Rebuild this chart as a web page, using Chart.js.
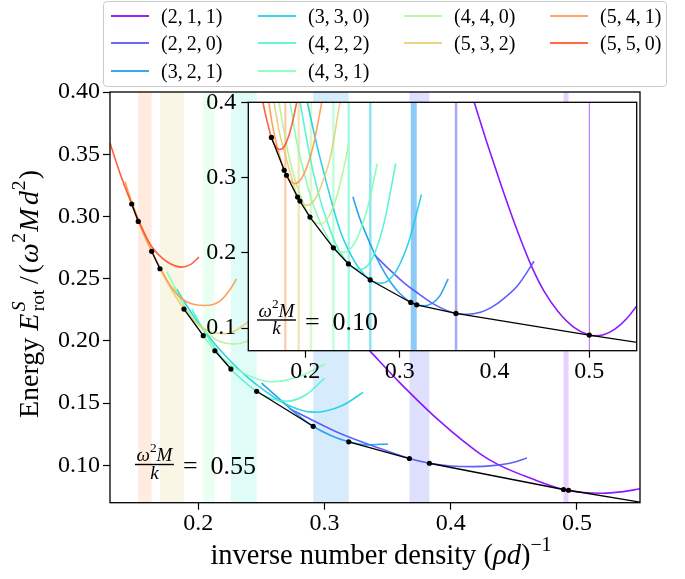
<!DOCTYPE html>
<html>
<head>
<meta charset="utf-8">
<title>Rotational energy vs inverse number density</title>
<script src="https://cdn.jsdelivr.net/npm/chart.js@4.4.1/dist/chart.umd.min.js"></script>
<style>
  html, body { margin: 0; padding: 0; background: #fff; }
  #page { position: relative; width: 685px; height: 579px; overflow: hidden; }
  canvas { position: absolute; }
  #mainChart { left: 0; top: 0; }
  #insetChart { left: 180px; top: 80px; }
  #legend { position: absolute; left: 103px; top: 1px; width: 564px; height: 86px; box-sizing: border-box;
            border: 1px solid #cccccc; border-radius: 4px; background: rgba(255,255,255,0.8);
            font-family: 'Liberation Serif', serif; font-size: 20px; color: #000; }
  .lg-line { position: absolute; width: 38px; height: 2px; }
  .lg-text { position: absolute; white-space: nowrap; line-height: 22px; }
</style>
</head>
<body>
<div id="page">
  <canvas id="mainChart" width="685" height="579"></canvas>
  <canvas id="insetChart" width="470" height="320"></canvas>
  <div id="legend"></div>
</div>
<script>
// ---- series labels and colours (rainbow colormap, 11 steps, last unused) ----
const labels = ['(2,\u20091,\u20091)', '(2,\u20092,\u20090)', '(3,\u20092,\u20091)', '(3,\u20093,\u20090)', '(4,\u20092,\u20092)',
                '(4,\u20093,\u20091)', '(4,\u20094,\u20090)', '(5,\u20093,\u20092)', '(5,\u20094,\u20091)', '(5,\u20095,\u20090)'];
const rainbow = [[128,0,255],[77,79,252],[26,150,242],[26,206,227],[77,243,206],
                 [128,255,180],[179,243,150],[230,206,116],[255,150,79],[255,79,40]];
const legendCols = [[0,1,2],[3,4,5],[6,7],[8,9]];

// ---- main panel, w^2 M / k = 0.55 : [inverse density, energy] ----
const m211 = [[0.31,0.220],[0.3359,0.192],[0.3596,0.1665],[0.3913,0.1355],[0.423,0.1095],[0.4388,0.1000],
              [0.465,0.0890],[0.4894,0.0806],[0.505,0.0782],[0.52,0.0776],[0.535,0.0787],[0.55,0.0812]];
const m220 = [[0.2725,0.1454],[0.29,0.1365],[0.312,0.1258],[0.34,0.1150],[0.3673,0.1055],[0.3831,0.1017],
              [0.40,0.0995],[0.4177,0.0990],[0.435,0.1000],[0.45,0.1025],[0.4604,0.106]];
const m321 = [[0.2501,0.166],[0.262,0.1555],[0.276,0.1428],[0.291,0.1314],[0.305,0.1240],[0.3192,0.1189],
              [0.333,0.1165],[0.3504,0.1172]];
const m330 = [[0.1828,0.2417],[0.1886,0.2320],[0.1965,0.2195],[0.2039,0.2095],[0.2131,0.1975],[0.2258,0.1835],
              [0.2393,0.1705],[0.2525,0.1600],[0.265,0.1515],[0.278,0.1455],[0.29,0.1428],[0.30,0.1435],
              [0.315,0.1485],[0.3306,0.1587]];
const m422 = [[0.195,0.2254],[0.2039,0.2090],[0.2131,0.1942],[0.2258,0.1774],[0.236,0.1676],[0.2462,0.1595],
              [0.258,0.1535],[0.27,0.1515],[0.285,0.1565],[0.30,0.1700]];
const m431 = [[0.175,0.2556],[0.19,0.2262],[0.197,0.2145],[0.2039,0.2042],[0.2131,0.1921],[0.222,0.1835],
              [0.235,0.1745],[0.248,0.1690],[0.258,0.1672],[0.27,0.1685],[0.285,0.1735],[0.30,0.1815]];
const m440 = [[0.18,0.243],[0.1886,0.2282],[0.197,0.2165],[0.2039,0.209],[0.215,0.2005],[0.228,0.1975],
              [0.2393,0.200],[0.25,0.2065]];
const m532 = [[0.145,0.318],[0.155,0.2915],[0.1696,0.258],[0.1886,0.2256],[0.205,0.2095],[0.222,0.2057],
              [0.2382,0.2144],[0.25,0.226]];
const m541 = [[0.142,0.328],[0.1472,0.3105],[0.1524,0.296],[0.163,0.272],[0.1801,0.2411],[0.1907,0.2315],
              [0.2052,0.2285],[0.2171,0.2320],[0.225,0.2411],[0.2303,0.2499]];
const m550 = [[0.13,0.359],[0.1385,0.333],[0.1472,0.310],[0.155,0.2915],[0.163,0.2758],[0.1749,0.2638],
              [0.1868,0.2593],[0.194,0.2615],[0.2005,0.2673]];
// common-tangent segments of the lower envelope
const envMain = [
  [[0.1472,0.310],[0.1524,0.296]],
  [[0.163,0.272],[0.1696,0.258]],
  [[0.1886,0.2256],[0.2039,0.2042]],
  [[0.2131,0.1921],[0.2258,0.1774]],
  [[0.2462,0.1595],[0.291,0.1314]],
  [[0.3192,0.1189],[0.3673,0.1055]],
  [[0.3831,0.1017],[0.4894,0.0806]],
  [[0.4934,0.0800],[0.56,0.0687]]
];
// stable ranges [from, to, series index]
const bandsMain = [[0.1524,0.163,8],[0.1696,0.1886,7],[0.2039,0.2131,5],[0.2258,0.2462,4],
                   [0.291,0.3192,2],[0.3673,0.3831,1],[0.4894,0.4934,0]];

// ---- inset, w^2 M / k = 0.10 ----
const i211 = [[0.3775,0.404],[0.392,0.346],[0.4069,0.2897],[0.422,0.236],[0.4387,0.183],[0.452,0.1495],
              [0.467,0.122],[0.483,0.1018],[0.4999,0.0907],[0.506,0.0898],[0.515,0.0913],[0.527,0.0987],
              [0.54,0.1135],[0.555,0.138]];
const i220 = [[0.2726,0.198],[0.2902,0.1763],[0.305,0.1595],[0.32,0.1455],[0.3362,0.1315],[0.3592,0.1195],
              [0.3716,0.1185],[0.385,0.1211],[0.3962,0.1272],[0.41,0.1396],[0.4246,0.157],[0.4416,0.1888]];
const i321 = [[0.2504,0.2745],[0.2565,0.250],[0.2634,0.2275],[0.2727,0.2005],[0.281,0.180],[0.2902,0.161],
              [0.30,0.146],[0.3115,0.1341],[0.3178,0.131],[0.3253,0.1297],[0.333,0.1322],[0.342,0.1425],
              [0.351,0.1653]];
const i330 = [[0.2015,0.405],[0.21,0.356],[0.22,0.305],[0.2369,0.2297],[0.248,0.198],[0.258,0.1775],
              [0.2687,0.164],[0.275,0.1605],[0.2805,0.1598],[0.288,0.1635],[0.297,0.1778],[0.309,0.2134],
              [0.3228,0.2773]];
const i422 = [[0.194,0.405],[0.2,0.362],[0.208,0.31],[0.216,0.27],[0.224,0.239],[0.232,0.2125],
              [0.2394,0.196],[0.2457,0.1853],[0.252,0.1795],[0.259,0.178],[0.266,0.1831],[0.274,0.2015],
              [0.284,0.2435],[0.2956,0.3187]];
const i431 = [[0.1835,0.405],[0.19,0.355],[0.198,0.31],[0.207,0.27],[0.215,0.243],[0.2229,0.2225],
              [0.2298,0.2067],[0.235,0.2025],[0.2408,0.2008],[0.248,0.2057],[0.256,0.2225],[0.265,0.2555],
              [0.2762,0.3187]];
const i440 = [[0.171,0.41],[0.177,0.366],[0.184,0.322],[0.191,0.29],[0.198,0.266],[0.2049,0.2475],
              [0.2105,0.2405],[0.2165,0.2385],[0.223,0.2445],[0.23,0.262],[0.238,0.297],[0.2457,0.343]];
const i532 = [[0.166,0.409],[0.172,0.365],[0.18,0.3255],[0.186,0.2985],[0.192,0.2741],[0.1945,0.2688],
              [0.2019,0.263],[0.21,0.2705],[0.218,0.2925],[0.227,0.3295],[0.2367,0.400],[0.238,0.41]];
const i541 = [[0.1605,0.410],[0.165,0.373],[0.171,0.338],[0.1779,0.3097],[0.1803,0.3031],[0.1845,0.2955],
              [0.1892,0.292],[0.195,0.2967],[0.202,0.3148],[0.209,0.3445],[0.2175,0.400],[0.219,0.411]];
const i550 = [[0.1530,0.415],[0.1585,0.382],[0.1644,0.3533],[0.169,0.341],[0.1733,0.3373],[0.178,0.3415],
              [0.1835,0.3585],[0.1885,0.384],[0.1935,0.416]];
const envInset = [[[0.1644,0.3533],[0.1779,0.3097],[0.1803,0.3031],[0.192,0.2741],[0.1945,0.2688],
                   [0.2051,0.2475],[0.2298,0.2067],[0.2457,0.1853],[0.2687,0.164],[0.3115,0.1341],
                   [0.3178,0.131],[0.3592,0.1195],[0.4999,0.0907],[0.56,0.0793]]];
const bandsInset = [[0.1779,0.1803,8],[0.192,0.1945,7],[0.2048,0.2074,6],[0.2285,0.2311,5],[0.2447,0.2473,4],
                    [0.2675,0.2701,3],[0.3115,0.3178,2],[0.3580,0.3606,1],[0.4994,0.5004,0]];

const mainCurves = [m211, m220, m321, m330, m422, m431, m440, m532, m541, m550];
const insetCurves = [i211, i220, i321, i330, i422, i431, i440, i532, i541, i550];

const FONT = '"Liberation Serif", serif';
const rgba = (c, a) => 'rgba(' + c[0] + ',' + c[1] + ',' + c[2] + ',' + a + ')';
const toXY = arr => arr.map(p => ({ x: p[0], y: p[1] }));

function buildDatasets(curves, segments) {
    const ds = [];
    // first datasets are drawn on top: envelope, then (5,5,0) ... (2,1,1)
    segments.forEach(seg => {
        ds.push({
            data: toXY(seg), showLine: true, borderColor: '#000', borderWidth: 1.3,
            pointRadius: 2.6, pointBackgroundColor: '#000', pointBorderWidth: 0, pointHoverRadius: 0
        });
    });
    for (let i = curves.length - 1; i >= 0; i--) {
        ds.push({
            data: toXY(curves[i]), showLine: true, borderColor: rgba(rainbow[i], 0.9), borderWidth: 1.6,
            pointRadius: 0, pointHoverRadius: 0, cubicInterpolationMode: 'monotone'
        });
    }
    return ds;
}

function axis(min, max, step, digits, fit, horizontal, pad) {
    return {
        type: 'linear', min: min, max: max,
        afterFit: s => { if (horizontal) s.height = fit; else s.width = fit; },
        grid: { drawOnChartArea: false, drawTicks: true, tickLength: 7, tickWidth: 1.2, tickColor: '#000' },
        border: { display: false },
        ticks: {
            stepSize: step, includeBounds: false, autoSkip: false, maxRotation: 0, padding: pad, color: '#000',
            font: { family: 'Liberation Serif', size: 24 }, callback: v => Number(v).toFixed(digits)
        }
    };
}

// draw a run of text pieces: [text, italic, scale, rise(em), advance, extra after(em), extra before(em)]
function drawParts(ctx, parts, x, y, size, measureOnly) {
    let cx = x;
    parts.forEach(p => {
        const sc = p[2] || 1, rise = p[3] || 0, adv = p[4] !== false;
        const post = (p[5] || 0) * size, pre = (p[6] || 0) * size;
        ctx.font = (p[1] ? 'italic ' : '') + (size * sc).toFixed(1) + 'px ' + FONT;
        cx += pre;
        if (!measureOnly) ctx.fillText(p[0], cx, y - rise * size);
        if (adv) cx += ctx.measureText(p[0]).width + post;
    });
    return cx - x;
}

function drawRatio(ctx, left, barY, value) {
    const num = [['ω', true], ['2', false, 0.7, 0.45], ['M', true]];
    const den = [['k', true]];
    ctx.save();
    ctx.fillStyle = '#000';
    ctx.textBaseline = 'alphabetic';
    const wn = drawParts(ctx, num, 0, 0, 19, true);
    const barW = wn + 3;
    drawParts(ctx, num, left + 1.5, barY - 3.5, 19);
    const wd = drawParts(ctx, den, 0, 0, 19, true);
    drawParts(ctx, den, left + (barW - wd) / 2, barY + 14, 19);
    ctx.fillRect(left, barY - 0.7, barW, 1.4);
    drawParts(ctx, [['=\u2002' + value, false]], left + barW + 9, barY + 9.5, 26);
    ctx.restore();
}

const bandsPlugin = {
    id: 'bands',
    beforeDatasetsDraw(chart, args, opts) {
        const { ctx, chartArea: a, scales: { x } } = chart;
        ctx.save();
        opts.list.forEach(b => {
            const x1 = x.getPixelForValue(b[0]), x2 = x.getPixelForValue(b[1]);
            ctx.fillStyle = rgba(rainbow[b[2]], opts.alpha);
            ctx.fillRect(x1, a.top, Math.max(x2 - x1, opts.minWidth), a.bottom - a.top);
        });
        ctx.restore();
    }
};

const framePlugin = {
    id: 'frame',
    beforeDraw(chart, args, opts) {
        if (!opts.fill) return;
        const { ctx, chartArea: a } = chart;
        ctx.save();
        ctx.fillStyle = '#fff';
        ctx.fillRect(a.left, a.top, a.right - a.left, a.bottom - a.top);
        ctx.restore();
    },
    afterDraw(chart) {
        const { ctx, chartArea: a } = chart;
        ctx.save();
        ctx.strokeStyle = '#000';
        ctx.lineWidth = 1.3;
        ctx.strokeRect(a.left, a.top, a.right - a.left, a.bottom - a.top);
        ctx.restore();
    }
};

const mainTextPlugin = {
    id: 'mainText',
    afterDraw(chart) {
        const ctx = chart.ctx;
        ctx.save();
        ctx.fillStyle = '#000';
        ctx.textBaseline = 'alphabetic';
        // y label
        const yParts = [['Energy ', false], ['E', true, 1, 0, true, 0.08], ['S', true, 0.7, 0.45, false],
                        ['rot', false, 0.7, -0.22, true, 0.1], ['/', false, 1, 0, true, 0.1, 0.1],
                        ['(', false, 1, 0, true, 0.04], ['ω', true, 1, 0, true, 0.02],
                        ['2', false, 0.7, 0.45, true, 0.04], ['M', true, 1, 0, true, 0.12],
                        ['d', true, 1, 0, true, 0.03], ['2', false, 0.7, 0.45, true, 0.04], [')', false]];
        const sizeY = 28;
        const wy = drawParts(ctx, yParts, 0, 0, sizeY, true);
        ctx.save();
        ctx.translate(38, 294);
        ctx.rotate(-Math.PI / 2);
        drawParts(ctx, yParts, -wy / 2, 0, sizeY);
        ctx.restore();
        // x label
        const xParts = [['inverse number density (', false], ['ρ', true], ['d', true], [')', false],
                        ['−1', false, 0.7, 0.45]];
        const wx = drawParts(ctx, xParts, 0, 0, 28.5, true);
        drawParts(ctx, xParts, 381 - wx / 2, 564, 28.5);
        ctx.restore();
        drawRatio(ctx, 135, 464.5, '0.55');
    }
};

const insetTextPlugin = {
    id: 'insetText',
    afterDraw(chart) {
        drawRatio(chart.ctx, 257 - 180, 320 - 80, '0.10');
    }
};

function baseOptions(padding, xAx, yAx, bands, alpha, minWidth, fill) {
    return {
        responsive: false, animation: false, devicePixelRatio: 1,
        layout: { padding: padding },
        plugins: {
            legend: { display: false }, tooltip: { enabled: false },
            bands: { list: bands, alpha: alpha, minWidth: minWidth },
            frame: { fill: fill }
        },
        scales: { x: xAx, y: yAx }
    };
}

new Chart(document.getElementById('mainChart'), {
    type: 'scatter',
    data: { datasets: buildDatasets(mainCurves, envMain) },
    options: baseOptions({ left: 0, right: 45, top: 92, bottom: 0 },
        axis(0.13, 0.55, 0.1, 1, 76.3, true, 0),
        axis(0.07, 0.40, 0.05, 2, 110, false, 3),
        bandsMain, 0.18, 0, false),
    plugins: [framePlugin, bandsPlugin, mainTextPlugin]
});

new Chart(document.getElementById('insetChart'), {
    type: 'scatter',
    data: { datasets: buildDatasets(insetCurves, envInset) },
    options: baseOptions({ left: 0, right: 13.3, top: 22.3, bottom: 0 },
        axis(0.14, 0.55, 0.1, 1, 49.3, true, 0),
        axis(0.07, 0.40, 0.1, 1, 68.3, false, 5),
        bandsInset, 0.5, 1.2, true),
    plugins: [framePlugin, bandsPlugin, insetTextPlugin]
});

// legend (matplotlib style, column-major, 4 columns)
const legend = document.getElementById('legend');
const colX = [7, 154, 300, 446];
const rowY = [13.5, 41, 69];
legendCols.forEach((col, c) => {
    col.forEach((idx, r) => {
        const ln = document.createElement('span');
        ln.className = 'lg-line';
        ln.style.left = colX[c] + 'px';
        ln.style.top = (rowY[r] - 1) + 'px';
        ln.style.background = rgba(rainbow[idx], 0.85);
        legend.appendChild(ln);
        const tx = document.createElement('span');
        tx.className = 'lg-text';
        tx.style.left = (colX[c] + 50) + 'px';
        tx.style.top = (rowY[r] - 11) + 'px';
        tx.textContent = labels[idx];
        legend.appendChild(tx);
    });
});
</script>
</body>
</html>
